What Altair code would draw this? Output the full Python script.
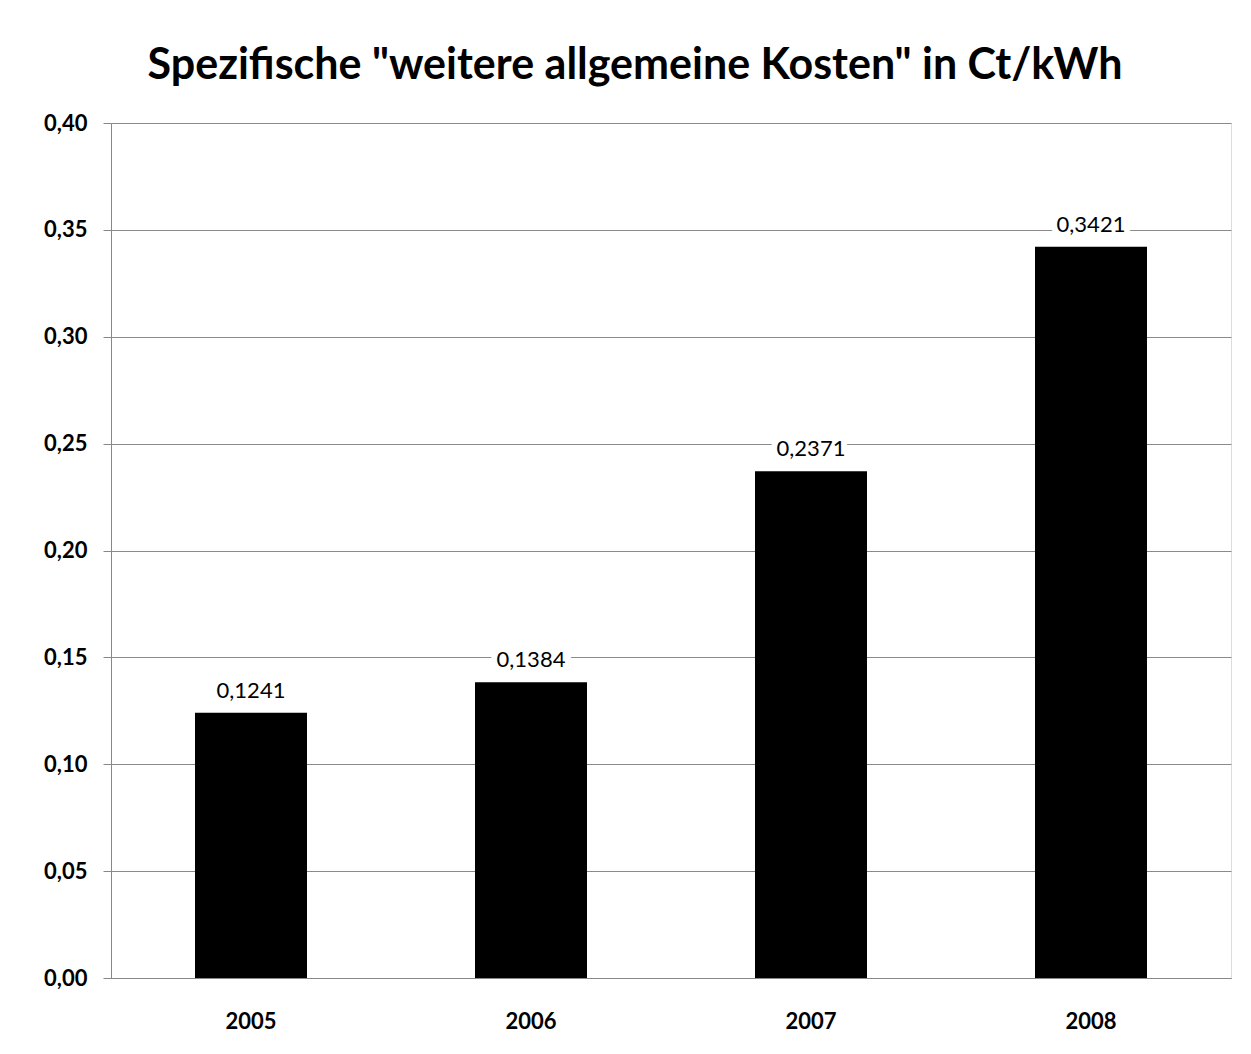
import altair as alt
import pandas as pd

years = ["2005", "2006", "2007", "2008"]
values = [0.1241, 0.1384, 0.2371, 0.3421]
y_ticks = [0.0, 0.05, 0.10, 0.15, 0.20, 0.25, 0.30, 0.35, 0.40]
title_text = 'Spezifische "weitere allgemeine Kosten" in Ct/kWh'

df = pd.DataFrame({"Jahr": years, "Wert": values})

FONT = "Lato"

x_enc = alt.X(
    "Jahr:N",
    sort=years,
    scale=alt.Scale(paddingInner=0.6, paddingOuter=0.3),
    axis=alt.Axis(
        title=None, labelAngle=0, ticks=False, labelPadding=33,
        labelFont=FONT, labelFontSize=22, labelFontWeight="bold", labelColor="black",
        domainColor="#888888", domainWidth=1,
    ),
)
y_enc = alt.Y(
    "Wert:Q",
    scale=alt.Scale(domain=[0, 0.4], nice=False),
    axis=alt.Axis(
        title=None, values=y_ticks,
        labelExpr="replace(format(datum.value, '.2f'), '.', ',')",
        labelFont=FONT, labelFontSize=22, labelFontWeight="bold", labelColor="black",
        labelPadding=16, tickSize=8, tickColor="#888888",
        grid=True, gridColor="#8a8a8a", gridWidth=1,
        domainColor="#888888", domainWidth=1,
    ),
)

base = alt.Chart(df).transform_calculate(
    label="replace(format(datum.Wert, '.4f'), '.', ',')"
)

bars = base.mark_bar(color="black").encode(x=x_enc, y=y_enc)

knock = base.mark_text(
    baseline="bottom", dy=-10, font=FONT, fontSize=22,
    stroke="white", strokeWidth=12, fill="white",
).encode(x=x_enc, y=y_enc, text="label:N")

labels = base.mark_text(
    baseline="bottom", dy=-10, font=FONT, fontSize=22, color="black",
).encode(x=x_enc, y=y_enc, text="label:N")

chart = (
    alt.layer(bars, knock, labels)
    .properties(
        width=1120,
        height=855,
        title=alt.TitleParams(
            title_text, font=FONT, fontSize=43, fontWeight="bold",
            color="black", anchor="middle", offset=24, dx=-36,
        ),
        autosize=alt.AutoSizeParams(type="none"),
        padding={"left": 103, "top": 115, "right": 12, "bottom": 68},
    )
    .configure_view(stroke=None)
    .configure(background="white")
)

chart.save("out.html", embed_options={"renderer": "svg", "actions": False})
